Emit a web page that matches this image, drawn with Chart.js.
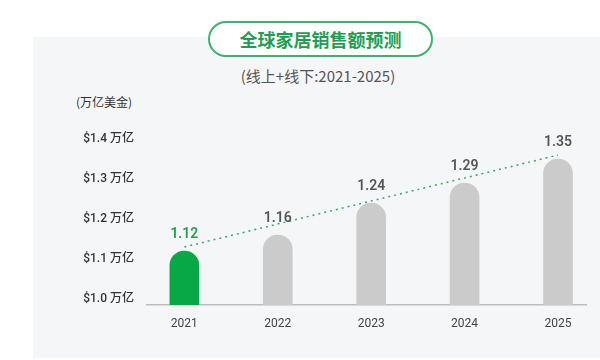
<!DOCTYPE html>
<html>
<head>
<meta charset="utf-8">
<script src="https://cdn.jsdelivr.net/npm/chart.js@4/dist/chart.umd.min.js"></script>
<style>
  html, body { margin: 0; padding: 0; background: #fff; }
  body { width: 600px; height: 360px; position: relative; overflow: hidden;
         font-family: Roboto, "Noto Sans CJK SC", sans-serif; }
  .panel { position: absolute; left: 33px; top: 37px; width: 567px; height: 321px; background: #f5f6f7; }
  .pill { position: absolute; left: 208px; top: 21px; width: 221px; height: 32px;
          border: 2px solid #3cb371; border-radius: 20px; background: #fff;
          color: #1f9e52; font-weight: bold; font-size: 18px; line-height: 32px;
          text-align: center; font-family: "Noto Sans CJK SC", sans-serif; }
  .sub { position: absolute; left: 0; width: 636px; top: 65px; text-align: center;
         color: #555; font-size: 15px; font-family: "Noto Sans CJK SC", sans-serif; }
  .unit { position: absolute; left: 76px; top: 93px; color: #333; font-size: 12px;
          font-family: "Noto Sans CJK SC", sans-serif; }
  canvas { position: absolute; left: 0; top: 0; }
</style>
</head>
<body>
<div class="panel"></div>
<div class="pill">全球家居销售额预测</div>
<div class="sub">(线上+线下:2021-2025)</div>
<div class="unit">(万亿美金)</div>
<canvas id="c" width="600" height="360"></canvas>
<script>
// données
const years = ["2021", "2022", "2023", "2024", "2025"];
const sales = [1.12, 1.16, 1.24, 1.29, 1.35];
const yTicks = [1.0, 1.1, 1.2, 1.3, 1.4];
const trend = [1.13, 1.36]; // ligne pointillée, de 2021 à 2025

const green = "#08a846";
const grey = "#cbcbcb";

// étiquettes au-dessus des barres
const valueLabels = {
  id: "valueLabels",
  afterDatasetsDraw(chart) {
    const meta = chart.getDatasetMeta(0);
    const ctx = chart.ctx;
    ctx.save();
    ctx.font = "600 14px Roboto, sans-serif";
    ctx.textAlign = "center";
    ctx.textBaseline = "middle";
    meta.data.forEach((bar, i) => {
      ctx.fillStyle = i === 0 ? "#22a04b" : "#555";
      ctx.fillText(sales[i].toFixed(2), bar.x, bar.y - 17);
    });
    ctx.restore();
  },
};

new Chart(document.getElementById("c"), {
  data: {
    datasets: [
      {
        type: "bar",
        data: sales.map((v, i) => ({ x: i, y: v })),
        backgroundColor: sales.map((_, i) => (i === 0 ? green : grey)),
        barThickness: 29,
        borderRadius: 15,
        order: 2,
      },
      {
        type: "line",
        data: [
          { x: 0, y: trend[0] },
          { x: years.length - 1, y: trend[1] },
        ],
        borderColor: "#3da56a",
        borderWidth: 1.5,
        borderDash: [2, 4],
        pointRadius: 0,
        order: 1,
      },
    ],
  },
  options: {
    responsive: false,
    animation: false,
    layout: { padding: { left: 0, right: 14, top: 123, bottom: 0 } },
    plugins: { legend: { display: false }, tooltip: { enabled: false } },
    scales: {
      x: {
        type: "linear",
        offset: false,
        min: -0.4,
        max: 4.3,
        grid: { display: false, drawTicks: false },
        border: { display: true, color: "#bdbdbd", width: 1.5 },
        afterBuildTicks: (s) => { s.ticks = years.map((_, i) => ({ value: i })); },
        afterFit: (s) => { s.height = 55; },
        ticks: {
          padding: 12,
          color: "#444",
          font: { size: 12, family: "Roboto, sans-serif" },
          callback: (v) => years[v],
        },
      },
      y: {
        min: 0.985,
        max: 1.44,
        grid: { display: false, drawTicks: false },
        border: { display: false },
        afterBuildTicks: (s) => { s.ticks = yTicks.map((v) => ({ value: v })); },
        afterFit: (s) => { s.width = 147; },
        ticks: {
          padding: 13,
          color: "#333",
          font: { size: 12, weight: "500", family: "Roboto, 'Noto Sans CJK SC', sans-serif" },
          callback: (v) => "$" + v.toFixed(1) + " 万亿",
        },
      },
    },
  },
  plugins: [valueLabels],
});
</script>
</body>
</html>
